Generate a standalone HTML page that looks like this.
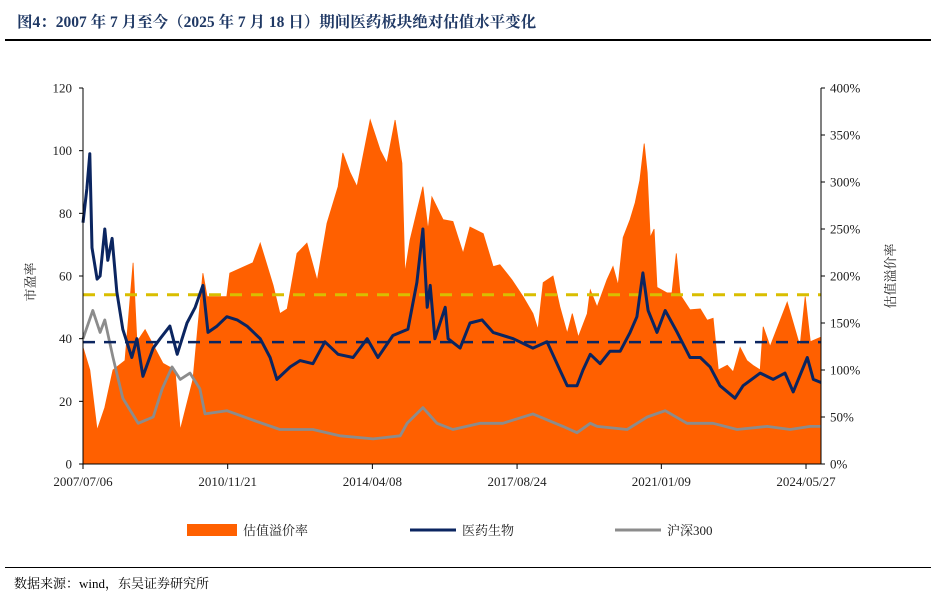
<!DOCTYPE html>
<html><head><meta charset="utf-8">
<style>
html,body{margin:0;padding:0;background:#fff;}
body{width:937px;height:597px;position:relative;overflow:hidden;font-family:"Liberation Serif","Noto Serif CJK SC",serif;}
#title{position:absolute;left:17px;top:10px;font-size:15.5px;font-weight:bold;color:#1F3864;white-space:nowrap;}
#tline{position:absolute;left:5px;top:39px;width:926px;height:2px;background:#000;}
#bline{position:absolute;left:5px;top:567px;width:926px;height:1px;background:#000;}
#source{position:absolute;left:14px;top:573px;font-size:13px;color:#000;white-space:nowrap;}
svg{position:absolute;left:0;top:0;}
svg text{font-family:"Liberation Serif","Noto Serif CJK SC",serif;font-size:13px;fill:#222;}
</style></head>
<body>
<div id="title">图4：2007 年 7 月至今（2025 年 7 月 18 日）期间医药板块绝对估值水平变化</div>
<div id="tline"></div>
<svg id="chart" width="937" height="597"></svg>
<div id="bline"></div>
<div id="source">数据来源：wind，东吴证券研究所</div>
<script>
// time = years since 2007-07-06
const premiumT = [0,.16,.33,.51,.70,.98,1.17,1.26,1.45,1.87,2.15,2.27,2.57,2.80,2.90,3.36,3.43,3.97,4.14,4.44,4.60,4.77,5.00,5.23,5.47,5.70,5.96,6.07,6.24,6.40,6.71,6.94,7.10,7.29,7.45,7.52,7.64,7.94,8.06,8.15,8.41,8.64,8.88,9.04,9.35,9.58,9.74,10.02,10.28,10.51,10.63,10.75,10.98,11.14,11.31,11.43,11.57,11.78,11.85,12.01,12.24,12.38,12.50,12.62,12.78,12.90,13.01,13.11,13.18,13.25,13.34,13.41,13.64,13.76,13.86,13.95,14.18,14.42,14.58,14.72,14.84,15.05,15.19,15.35,15.51,15.65,15.82,15.89,16.05,16.29,16.45,16.59,16.75,16.87,16.99,17.24];
const premiumV = [124,100,36,60,100,110,214,130,143,107,100,36,90,203,178,178,203,214,235,190,160,165,224,235,195,256,295,331,310,295,366,334,320,366,320,203,238,295,249,284,260,258,224,252,245,210,212,196,178,160,143,193,200,167,139,160,135,160,185,167,196,210,190,241,260,278,302,341,310,241,250,188,182,182,224,180,164,165,153,155,100,105,98,124,110,105,100,146,125,153,172,150,125,178,130,135];
const peT = [0,.09,.16,.21,.33,.40,.51,.58,.68,.79,.93,1.14,1.26,1.40,1.64,1.80,2.03,2.20,2.43,2.62,2.80,2.92,3.13,3.36,3.60,3.83,4.14,4.37,4.53,4.84,5.07,5.37,5.65,5.96,6.31,6.64,6.89,7.24,7.59,7.80,7.94,8.04,8.11,8.22,8.46,8.53,8.81,9.04,9.32,9.58,10.05,10.51,10.84,11.14,11.31,11.54,11.68,11.85,12.08,12.31,12.55,12.78,12.94,13.08,13.20,13.41,13.60,13.88,14.18,14.42,14.65,14.88,15.23,15.42,15.82,16.12,16.40,16.59,16.92,17.06,17.24];
const peV = [77,88,99,69,59,60,75,65,72,55,43,34,40,28,37,40,44,35,45,50,57,42,44,47,46,44,40,34,27,31,33,32,39,35,34,40,34,41,43,58,75,50,57,40,50,40,37,45,46,42,40,37,39,30,25,25,30,35,32,36,36,42,47,61,49,42,49,42,34,34,31,25,21,25,29,27,29,23,34,27,26];
const hsT = [0,.23,.40,.51,.70,.93,1.29,1.64,1.85,2.08,2.27,2.50,2.73,2.85,3.36,3.97,4.60,5.37,6.00,6.78,7.41,7.57,7.94,8.27,8.64,9.28,9.81,10.51,11.21,11.54,11.85,12.01,12.71,13.18,13.60,14.11,14.72,15.28,15.98,16.52,16.99,17.24];
const hsV = [40,49,42,46,34,21,13,15,24,31,27,29,24,16,17,14,11,11,9,8,9,13,18,13,11,13,13,16,12,10,13,12,11,15,17,13,13,11,12,11,12,12];
const peMean = [38.9];
const peUpper = [54];
const leftTicks = [0,20,40,60,80,100,120];
const rightTicks = [0,50,100,150,200,250,300,350,400];
const xTickT = [0,3.38,6.76,10.14,13.51,16.89];
const xTickLabels = ["2007/07/06","2010/11/21","2014/04/08","2017/08/24","2021/01/09","2024/05/27"];

const L=83,R=821,T=88,B=464,TMAX=17.24;
const xS=t=>L+(R-L)*t/TMAX;
const yL=v=>B-(B-T)*v/120;
const yR=v=>B-(B-T)*v/400;
const svg=document.getElementById('chart');
const NS='http://www.w3.org/2000/svg';
function mk(tag,attrs,parent){const e=document.createElementNS(NS,tag);for(const k in attrs)e.setAttribute(k,attrs[k]);(parent||svg).appendChild(e);return e;}

// premium area
let d='M'+xS(premiumT[0])+','+B;
premiumT.forEach((t,i)=>{d+=' L'+xS(t).toFixed(1)+','+yR(premiumV[i]).toFixed(1);});
d+=' L'+xS(premiumT[premiumT.length-1])+','+B+' Z';
const area=mk('path',{d:d,fill:'#FF6000',stroke:'#FF6000','stroke-width':'0.8'});



function line(ts,vs,color,w){
  const p=ts.map((t,i)=>xS(t).toFixed(1)+','+yL(vs[i]).toFixed(1)).join(' ');
  return mk('polyline',{points:p,fill:'none',stroke:color,'stroke-width':w,'stroke-linejoin':'round'});
}
const hs=line(hsT,hsV,'#8C8C8C',2.8);



const up=mk('line',{x1:L,x2:R,y1:yL(peUpper[0]),y2:yL(peUpper[0]),stroke:'#D9BE00','stroke-width':3,'stroke-dasharray':'12 9'});


const mn=mk('line',{x1:L,x2:R,y1:yL(peMean[0]),y2:yL(peMean[0]),stroke:'#0B2560','stroke-width':2.5,'stroke-dasharray':'12 9'});



const pe=line(peT,peV,'#0B2560',3);



// axes
const ax=mk('g',{stroke:'#000','stroke-width':1});


mk('line',{x1:L,x2:L,y1:T,y2:B},ax);
mk('line',{x1:R,x2:R,y1:T,y2:B},ax);
mk('line',{x1:L,x2:R,y1:B,y2:B},ax);
leftTicks.forEach(v=>{
  mk('line',{x1:L-4,x2:L,y1:yL(v),y2:yL(v)},ax);
  const t=mk('text',{x:L-11,y:yL(v)+4.5,'text-anchor':'end'});t.textContent=v;
  
  
});
rightTicks.forEach(v=>{
  mk('line',{x1:R,x2:R+4,y1:yR(v),y2:yR(v)},ax);
  const t=mk('text',{x:R+9,y:yR(v)+4.5,'text-anchor':'start'});t.textContent=v+'%';
  
  
});
xTickT.forEach((tt,i)=>{
  mk('line',{x1:xS(tt),x2:xS(tt),y1:B,y2:B+5},ax);
  const t=mk('text',{x:xS(tt),y:B+22,'text-anchor':'middle'});t.textContent=xTickLabels[i];
  
  
});
const yt=mk('text',{x:0,y:0,transform:'translate(35,282) rotate(-90)','text-anchor':'middle'});yt.textContent='市盈率';


const yt2=mk('text',{x:0,y:0,transform:'translate(895,276) rotate(-90)','text-anchor':'middle'});yt2.textContent='估值溢价率';



// legend
const lg=mk('g',{});


mk('rect',{x:187,y:524,width:50,height:12,fill:'#FF6000'},lg);
let lt=mk('text',{x:243,y:535},lg);lt.textContent='估值溢价率';
mk('line',{x1:410,x2:456,y1:530,y2:530,stroke:'#0B2560','stroke-width':3},lg);
lt=mk('text',{x:462,y:535},lg);lt.textContent='医药生物';
mk('line',{x1:615,x2:661,y1:530,y2:530,stroke:'#8C8C8C','stroke-width':3},lg);
lt=mk('text',{x:667,y:535},lg);lt.textContent='沪深300';
</script>
</body></html>
